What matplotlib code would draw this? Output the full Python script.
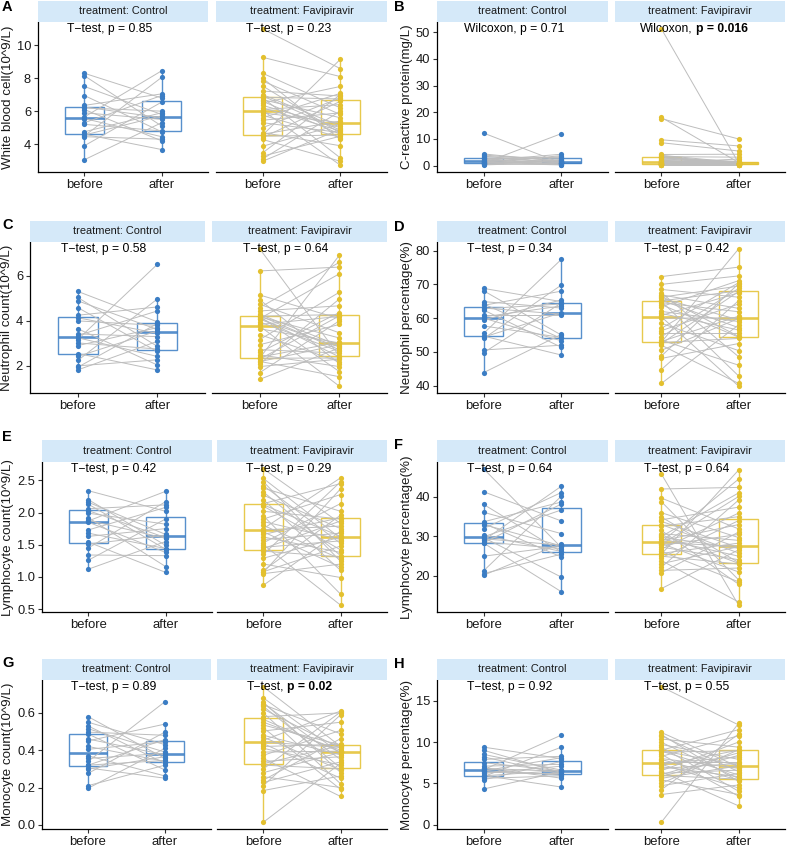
import matplotlib
matplotlib.use("Agg")
import matplotlib.pyplot as plt
from matplotlib.colors import to_rgba
from matplotlib.transforms import offset_copy

plt.rcParams['font.family'] = ['Liberation Sans', 'DejaVu Sans']

W, H = 787, 848
fig = plt.figure(figsize=(W / 100, H / 100), dpi=100)

times = ["before", "after"]
treatments = ["Control", "Favipiravir"]
palette = ["#3B7DC4", "#E3C02E"]

# ---------------- data (paired: index i = same patient) ----------------
# A  White blood cell
wbc_ctrl_before = [3.05, 3.9, 4.45, 4.5, 4.55, 4.6, 4.75, 5.2, 5.3, 5.55, 5.65, 5.9, 6.1, 6.2, 6.25, 6.35, 6.95, 7.5, 8.15, 8.3]
wbc_ctrl_after = [5.3, 6.55, 4.3, 8.05, 5.72, 3.67, 5.9, 4.8, 6.95, 4.45, 8.45, 5.5, 4.2, 6.0, 5.6, 7.05, 4.75, 5.8, 5.1, 6.8]
wbc_fav_before = [2.96, 3.1, 3.27, 3.47, 3.87, 4.28, 4.4, 4.48, 4.55, 4.6, 4.7, 5.0, 5.3, 5.45, 5.6, 5.75, 5.9, 6.04, 6.1, 6.2, 6.35, 6.5, 6.6, 6.7, 6.82, 6.85, 6.92, 7.0, 7.22, 7.53, 7.83, 8.0, 8.3, 9.27, 11.0]
wbc_fav_after = [4.9, 6.0, 4.48, 7.0, 5.2, 2.96, 6.6, 4.55, 9.15, 5.4, 3.9, 6.8, 4.7, 5.9, 7.08, 4.4, 5.3, 2.72, 6.4, 4.8, 5.0, 7.5, 4.6, 5.6, 3.16, 6.74, 4.85, 5.1, 6.92, 4.66, 5.8, 4.28, 6.2, 8.1, 8.58]

# B  C-reactive protein
crp_ctrl_before = [0.3, 0.5, 0.6, 0.8, 1.0, 1.0, 1.1, 1.3, 1.5, 1.7, 1.9, 2.1, 2.4, 2.7, 2.9, 3.3, 3.6, 4.0, 4.4, 12.2]
crp_ctrl_after = [1.2, 2.3, 0.5, 3.8, 12.0, 0.3, 2.0, 1.0, 3.4, 0.7, 4.3, 1.3, 0.4, 2.6, 1.4, 3.0, 0.9, 1.8, 1.6, 1.0]
crp_fav_before = [0.2, 0.3, 0.3, 0.4, 0.4, 0.5, 0.5, 0.6, 0.6, 0.6, 0.7, 0.8, 0.9, 1.0, 1.1, 1.2, 1.4, 1.5, 1.7, 1.9, 2.1, 2.3, 2.6, 2.9, 3.1, 3.2, 3.4, 3.6, 3.9, 4.2, 8.6, 9.7, 17.6, 18.1, 51.2]
crp_fav_after = [0.5, 0.3, 0.8, 0.4, 1.2, 0.2, 0.9, 0.5, 1.1, 0.4, 0.6, 1.3, 0.5, 0.7, 2.5, 0.4, 1.0, 0.8, 0.6, 1.2, 0.3, 1.4, 0.9, 1.6, 0.5, 1.1, 3.2, 0.7, 1.2, 4.3, 5.5, 7.4, 10.0, 1.2, 1.0]

# C  Neutrophil count
neu_ctrl_before = [1.82, 1.94, 2.0, 2.24, 2.42, 2.55, 2.9, 3.02, 3.17, 3.25, 3.35, 3.42, 3.65, 4.0, 4.14, 4.25, 4.59, 4.89, 5.04, 5.31]
neu_ctrl_after = [3.09, 3.88, 2.27, 4.97, 3.55, 1.82, 3.7, 2.75, 6.51, 2.42, 4.44, 3.3, 2.04, 3.8, 3.45, 4.62, 2.64, 3.62, 2.87, 3.96]
neu_fav_before = [1.4, 1.7, 1.97, 2.09, 2.19, 2.2, 2.3, 2.34, 2.35, 2.39, 2.49, 2.6, 2.72, 2.94, 3.17, 3.39, 3.65, 3.77, 3.84, 3.95, 4.07, 4.1, 4.15, 4.18, 4.2, 4.21, 4.23, 4.29, 4.44, 4.59, 4.74, 4.94, 5.15, 6.22, 7.2]
neu_fav_after = [2.8, 4.0, 2.3, 4.97, 2.94, 1.52, 4.22, 2.35, 6.91, 3.05, 1.97, 4.37, 2.57, 3.84, 5.27, 2.19, 3.02, 1.1, 4.2, 2.65, 2.84, 6.09, 2.4, 3.24, 1.75, 4.28, 2.72, 2.9, 4.67, 6.6, 3.47, 2.1, 4.1, 6.39, 2.44]

# D  Neutrophil percentage
npc_ctrl_before = [43.9, 49.8, 50.6, 54.0, 54.4, 54.7, 55.5, 57.7, 59.5, 60.0, 60.4, 61.0, 62.4, 62.8, 63.0, 63.8, 64.2, 64.9, 68.1, 68.8]
npc_ctrl_after = [55.2, 64.5, 52.0, 69.8, 61.6, 49.1, 77.4, 54.3, 65.4, 53.3, 63.6, 61.0, 51.4, 64.2, 61.2, 68.0, 54.0, 63.0, 55.0, 64.9]
npc_fav_before = [40.7, 44.8, 48.1, 48.8, 50.5, 52.0, 52.5, 52.8, 52.9, 53.1, 53.5, 54.5, 55.5, 56.3, 57.0, 58.5, 60.0, 60.4, 60.8, 61.4, 62.0, 63.4, 64.0, 64.6, 65.0, 65.1, 65.3, 65.9, 66.2, 66.5, 66.9, 67.5, 68.5, 70.0, 72.3]
npc_fav_after = [58.0, 65.2, 52.5, 70.2, 59.9, 40.7, 67.9, 54.0, 80.5, 60.6, 46.1, 68.8, 55.5, 64.2, 70.5, 50.4, 60.1, 39.9, 67.5, 56.5, 59.0, 71.1, 54.4, 61.9, 42.9, 68.1, 57.2, 59.5, 69.5, 54.6, 62.9, 48.6, 66.2, 72.5, 75.1]

# E  Lymphocyte count
lym_ctrl_before = [1.12, 1.26, 1.34, 1.45, 1.51, 1.54, 1.63, 1.68, 1.73, 1.85, 1.87, 1.88, 1.92, 1.99, 2.03, 2.06, 2.13, 2.16, 2.2, 2.34]
lym_ctrl_after = [1.55, 1.9, 1.33, 2.17, 1.65, 1.07, 1.75, 1.44, 2.08, 1.38, 2.33, 1.6, 1.16, 1.82, 1.61, 2.12, 1.43, 1.66, 1.49, 2.02]
lym_fav_before = [0.87, 1.05, 1.07, 1.08, 1.1, 1.2, 1.29, 1.35, 1.4, 1.44, 1.46, 1.5, 1.53, 1.58, 1.62, 1.66, 1.7, 1.73, 1.75, 1.8, 1.86, 1.9, 1.95, 2.02, 2.1, 2.12, 2.14, 2.2, 2.27, 2.32, 2.38, 2.42, 2.48, 2.53, 2.68]
lym_fav_after = [1.71, 1.2, 2.37, 1.48, 1.96, 0.99, 1.62, 2.48, 1.31, 1.87, 1.56, 0.56, 2.14, 1.68, 1.38, 1.92, 1.15, 1.79, 2.54, 1.28, 1.58, 2.28, 0.73, 1.9, 1.42, 1.63, 2.45, 1.1, 1.75, 1.33, 2.02, 1.52, 1.24, 1.6, 1.83]

# F  Lymphocyte percentage
lpc_ctrl_before = [20.2, 20.6, 21.3, 25.0, 28.3, 28.4, 28.6, 29.0, 29.4, 29.7, 29.9, 30.3, 32.0, 33.0, 33.3, 33.7, 36.1, 38.1, 41.3, 47.1]
lpc_ctrl_after = [28.2, 25.5, 40.2, 27.5, 16.0, 38.2, 26.9, 42.7, 27.8, 19.7, 36.7, 26.2, 41.1, 27.6, 24.8, 38.7, 30.7, 26.1, 33.9, 27.2]
lpc_fav_before = [16.8, 20.8, 21.4, 22.2, 23.1, 23.9, 24.6, 25.0, 25.5, 25.7, 26.2, 26.8, 27.3, 27.7, 28.0, 28.2, 28.4, 28.6, 28.9, 29.4, 29.8, 30.0, 30.4, 30.7, 31.5, 32.6, 33.0, 33.8, 34.2, 34.9, 36.0, 38.8, 39.7, 42.0, 45.8]
lpc_fav_after = [26.6, 31.1, 22.0, 39.2, 27.4, 13.4, 34.0, 23.0, 46.8, 28.3, 18.5, 35.9, 24.1, 30.5, 40.1, 21.0, 27.5, 44.5, 33.0, 25.0, 27.0, 41.0, 23.2, 29.0, 17.9, 35.0, 25.8, 27.2, 37.4, 23.4, 29.7, 19.0, 31.9, 42.4, 12.6]

# G  Monocyte count
mon_ctrl_before = [0.196, 0.21, 0.276, 0.30, 0.305, 0.32, 0.32, 0.34, 0.356, 0.37, 0.405, 0.42, 0.45, 0.46, 0.487, 0.497, 0.515, 0.53, 0.55, 0.58]
mon_ctrl_after = [0.41, 0.32, 0.497, 0.365, 0.25, 0.457, 0.345, 0.66, 0.383, 0.262, 0.445, 0.34, 0.54, 0.375, 0.294, 0.48, 0.39, 0.33, 0.43, 0.356]
mon_fav_before = [0.014, 0.184, 0.21, 0.227, 0.24, 0.258, 0.28, 0.30, 0.32, 0.328, 0.34, 0.356, 0.373, 0.39, 0.41, 0.42, 0.435, 0.444, 0.453, 0.47, 0.48, 0.503, 0.52, 0.535, 0.55, 0.565, 0.58, 0.6, 0.62, 0.635, 0.644, 0.65, 0.657, 0.68, 0.74]
mon_fav_after = [0.33, 0.262, 0.59, 0.338, 0.462, 0.2, 0.388, 0.605, 0.30, 0.425, 0.365, 0.152, 0.506, 0.395, 0.32, 0.432, 0.25, 0.415, 0.61, 0.294, 0.375, 0.55, 0.19, 0.428, 0.4, 0.39, 0.6, 0.22, 0.41, 0.306, 0.488, 0.35, 0.28, 0.383, 0.42]

# H  Monocyte percentage
mpc_ctrl_before = [4.31, 5.42, 5.6, 5.82, 5.9, 5.95, 6.2, 6.35, 6.5, 6.55, 6.65, 6.8, 6.9, 7.08, 7.5, 7.9, 8.2, 8.5, 9.0, 9.38]
mpc_ctrl_after = [6.41, 7.65, 5.9, 9.38, 6.56, 4.55, 7.08, 6.14, 8.1, 6.0, 10.84, 6.45, 5.62, 7.3, 6.5, 8.27, 6.1, 6.6, 6.3, 7.99]
mpc_fav_before = [0.28, 3.64, 4.23, 4.71, 5.0, 5.42, 5.6, 5.82, 5.95, 6.05, 6.21, 6.4, 6.53, 6.8, 7.0, 7.2, 7.3, 7.4, 7.6, 7.88, 8.0, 8.27, 8.5, 8.78, 8.9, 8.95, 9.01, 9.38, 9.7, 9.97, 10.37, 10.76, 10.9, 11.16, 16.7]
mpc_fav_after = [12.27, 4.8, 10.96, 6.2, 9.06, 3.64, 7.12, 8.39, 5.5, 8.7, 6.6, 2.26, 10.0, 7.4, 5.8, 9.02, 4.43, 8.2, 7.6, 5.4, 6.81, 10.76, 3.44, 8.94, 6.01, 7.2, 11.5, 4.04, 7.9, 5.58, 9.38, 6.41, 5.22, 7.0, 12.07]

# axis ticks
wbc_ticks = [4, 6, 8, 10]
crp_ticks = [0, 10, 20, 30, 40, 50]
neu_ticks = [2, 4, 6]
npc_ticks = [40, 50, 60, 70, 80]
lym_ticks = [0.5, 1.0, 1.5, 2.0, 2.5]
lym_ticklabels = ["0.5", "1.0", "1.5", "2.0", "2.5"]
lpc_ticks = [20, 30, 40]
mon_ticks = [0.0, 0.2, 0.4, 0.6]
mon_ticklabels = ["0.0", "0.2", "0.4", "0.6"]
mpc_ticks = [0, 5, 10, 15]

letters = ["A", "B", "C", "D", "E", "F", "G", "H"]
ylabels = ["White blood cell(10^9/L)", "C-reactive protein(mg/L)",
           "Neutrophil count(10^9/L)", "Neutrophil percentage(%)",
           "Lymphocyte count(10^9/L)", "Lymphocyte percentage(%)",
           "Monocyte count(10^9/L)", "Monocyte percentage(%)"]
# test method, p-value text, bold flag  (Control, Favipiravir)
tests = [
    [("T\u2212test", "p = 0.85", False), ("T\u2212test", "p = 0.23", False)],
    [("Wilcoxon", "p = 0.71", False), ("Wilcoxon", "p = 0.016", True)],
    [("T\u2212test", "p = 0.58", False), ("T\u2212test", "p = 0.64", False)],
    [("T\u2212test", "p = 0.34", False), ("T\u2212test", "p = 0.42", False)],
    [("T\u2212test", "p = 0.42", False), ("T\u2212test", "p = 0.29", False)],
    [("T\u2212test", "p = 0.64", False), ("T\u2212test", "p = 0.64", False)],
    [("T\u2212test", "p = 0.89", False), ("T\u2212test", "p = 0.02", True)],
    [("T\u2212test", "p = 0.92", False), ("T\u2212test", "p = 0.55", False)],
]
panel_data = [
    ((wbc_ctrl_before, wbc_ctrl_after), (wbc_fav_before, wbc_fav_after), wbc_ticks, None),
    ((crp_ctrl_before, crp_ctrl_after), (crp_fav_before, crp_fav_after), crp_ticks, None),
    ((neu_ctrl_before, neu_ctrl_after), (neu_fav_before, neu_fav_after), neu_ticks, None),
    ((npc_ctrl_before, npc_ctrl_after), (npc_fav_before, npc_fav_after), npc_ticks, None),
    ((lym_ctrl_before, lym_ctrl_after), (lym_fav_before, lym_fav_after), lym_ticks, lym_ticklabels),
    ((lpc_ctrl_before, lpc_ctrl_after), (lpc_fav_before, lpc_fav_after), lpc_ticks, None),
    ((mon_ctrl_before, mon_ctrl_after), (mon_fav_before, mon_fav_after), mon_ticks, mon_ticklabels),
    ((mpc_ctrl_before, mpc_ctrl_after), (mpc_fav_before, mpc_fav_after), mpc_ticks, None),
]

# ---------------- layout (pixels) ----------------
rows_px = [(1, 22, 172), (221, 242, 393), (440, 462, 612), (659, 680, 829)]
left_cols_px = [((38, 208), (216, 387)), ((30, 205), (212, 387)),
                ((42, 212), (217, 387)), ((42, 211), (217, 387))]
right_cols_px = ((437, 608), (615, 785))
letter_y_px = [7, 7, 225, 227, 437, 445, 663, 664]

strip_color = "#D5E9F9"
line_gray = "#BDBDBD"
txt_color = "#1A1A1A"


def px_axes(x0, x1, y0, y1):
    return fig.add_axes([x0 / W, 1 - y1 / H, (x1 - x0) / W, (y1 - y0) / H])


renderer = fig.canvas.get_renderer()


def text_width(ax, s, **kw):
    t = ax.text(0, 0, s, **kw)
    w = t.get_window_extent(renderer).width
    t.remove()
    return w


for k in range(8):
    row, col = divmod(k, 2)
    strip_top, strip_bot, plot_bot = rows_px[row]
    cols = left_cols_px[row] if col == 0 else right_cols_px
    ctrl, fav, ticks, ticklabels = panel_data[k]
    all_vals = list(ctrl[0]) + list(ctrl[1]) + list(fav[0]) + list(fav[1])
    lo, hi = min(all_vals), max(all_vals)
    pad = 0.05 * (hi - lo)

    for j, (before, after) in enumerate((ctrl, fav)):
        x0, x1 = cols[j]
        color = palette[j]
        ax = px_axes(x0, x1, strip_bot, plot_bot)
        sax = px_axes(x0, x1, strip_top, strip_bot)

        # strip
        sax.set_facecolor(strip_color)
        sax.set_xticks([])
        sax.set_yticks([])
        for s in sax.spines.values():
            s.set_visible(False)
        sax.text(0.5, 0.5, f"treatment: {treatments[j]}", ha="center", va="center",
                 fontsize=7.9, color=txt_color, transform=sax.transAxes)

        # boxplots
        edge = to_rgba(color, 0.85)
        ax.boxplot([before, after], positions=[1, 2], widths=0.5, whis=1.5,
                   showfliers=False, showcaps=False, patch_artist=True, zorder=1,
                   boxprops=dict(facecolor="white", edgecolor=edge, linewidth=1.0),
                   whiskerprops=dict(color=edge, linewidth=1.0),
                   medianprops=dict(color=edge, linewidth=1.9, solid_capstyle="butt"))
        # paired lines
        for b, a in zip(before, after):
            ax.plot([1, 2], [b, a], color=line_gray, lw=0.7, zorder=2)
        # points
        ax.scatter([1] * len(before), before, s=14, color=color, zorder=3, linewidths=0)
        ax.scatter([2] * len(after), after, s=14, color=color, zorder=3, linewidths=0)

        ax.set_xlim(0.4, 2.6)
        ax.set_ylim(lo - pad, hi + pad)
        ax.set_xticks([1, 2])
        ax.set_xticklabels(times, fontsize=9.4, color=txt_color)
        ax.tick_params(axis="both", length=3, width=0.8, color="#333333", pad=2)
        for side in ("top", "right"):
            ax.spines[side].set_visible(False)
        ax.spines["bottom"].set_linewidth(0.9)
        ax.spines["bottom"].set_color("black")
        ax.set_facecolor("white")
        if j == 0:
            ax.set_yticks(ticks)
            if ticklabels is not None:
                ax.set_yticklabels(ticklabels)
            ax.tick_params(axis="y", labelsize=9.3, labelcolor=txt_color)
            ax.spines["left"].set_linewidth(0.9)
            ax.spines["left"].set_color("black")
            ax.set_ylabel(ylabels[k], fontsize=9.6, color=txt_color, labelpad=2)
        else:
            ax.set_yticks([])
            ax.spines["left"].set_visible(False)

        # test annotation
        method, ptxt, bold = tests[k][j]
        fs = 8.7
        full = f"{method}, {ptxt}"
        w_full = text_width(ax, full, fontsize=fs)
        shift_px = -0.2 * w_full
        tr = offset_copy(ax.transData, fig=fig, x=shift_px * 72 / 100, y=0, units="points")
        if not bold:
            ax.text(1, hi, full, fontsize=fs, ha="left", va="center", color="black",
                    transform=tr, zorder=4)
        else:
            w_p = text_width(ax, ptxt, fontsize=fs)
            ax.text(1, hi, f"{method},", fontsize=fs, ha="left", va="center",
                    color="black", transform=tr, zorder=4)
            tr2 = offset_copy(ax.transData, fig=fig,
                              x=(shift_px + w_full - w_p) * 72 / 100, y=0, units="points")
            ax.text(1, hi, ptxt, fontsize=fs, ha="left", va="center", color="black",
                    fontweight="bold", transform=tr2, zorder=4)

    lx = 2 if col == 0 else 394
    fig.text(lx / W, 1 - letter_y_px[k] / H, letters[k], fontsize=10.5,
             fontweight="bold", ha="left", va="center", color="black")

fig.savefig("out.png", dpi=100)
